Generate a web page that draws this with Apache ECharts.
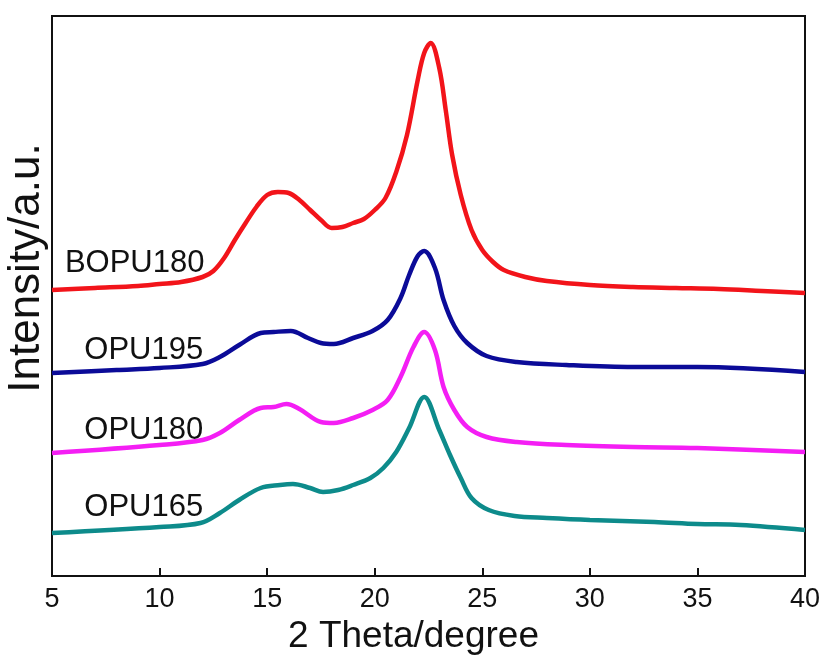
<!DOCTYPE html>
<html>
<head>
<meta charset="utf-8">
<script src="https://cdn.jsdelivr.net/npm/echarts@6/dist/echarts.min.js"></script>
<style>html,body{margin:0;padding:0;background:#fff}#c{width:826px;height:658px}</style>
</head>
<body>
<div id="c"></div>
<script>
// 2θ (degree) and intensity (a.u., curves stacked with offsets as in the figure)
const BOPU180_x = [5,7,9,10,11,12,12.5,13,13.5,14,14.5,15,15.5,16,16.5,17,17.5,18,18.5,19,19.5,20,20.5,21,21.5,22,22.3,22.6,23,23.3,23.6,24,24.5,25,25.5,26,27,28,30,32,34,36,38,40];
const BOPU180_y = [286,288,290,292,294,299,305,318,336,353,369,381,384,383,376,366,356,348,349,353,357,366,378,404,441,496,523,533,508,466,421,381,346,326,314,306,299,295,291,289,288,287,285,283];

const OPU195_x = [5,8,10,12,12.8,13.7,14.7,15.3,16.1,16.9,17.5,18.1,19,19.9,20.6,21.2,21.6,22,22.3,22.8,23.2,23.7,24.3,25.2,26.6,28.9,32,35,40];
const OPU195_y = [203,206,208,212,219,231,243,244,245,238,233,232,238,245,256,278,301,320,325,308,276,250,233,220,214,211,209,209,204];

const OPU180_x = [5,10,12,12.8,13.7,14.7,15.3,15.9,16.5,17.5,18.1,19,19.9,20.6,21.2,21.8,22.3,22.8,23.2,23.7,24.3,25.2,26.6,28.9,32,35,40];
const OPU180_y = [123,131,136,143,156,168,169,172,167,154,153,158,166,176,199,229,244,226,189,166,149,139,134,131,129,128,124];

const OPU165_x = [5,10,11.9,12.8,13.7,14.7,15.6,16.2,17,17.6,18.3,19,19.8,20.4,21,21.6,22.3,23,23.5,24,24.5,25.3,26.5,28,30,33,35,37,40];
const OPU165_y = [43,49,53,63,76,88,91,92,88,84,86,91,98,108,124,148,179,146,121,98,78,66,60,58,56,54,52,51,46];

const seriesNames = ['BOPU180','OPU195','OPU180','OPU165'];
const seriesColors = ['#f2141a','#0b0b98','#f41ef4','#0d8b8b'];
const xTicks = [5,10,15,20,25,30,35,40];

const zip = (xs, ys) => xs.map((x, i) => [x, ys[i]]);
const datasets = [zip(BOPU180_x,BOPU180_y), zip(OPU195_x,OPU195_y), zip(OPU180_x,OPU180_y), zip(OPU165_x,OPU165_y)];
// label anchor: [x in degrees, y in a.u.]
const labelPos = [[5.6,313],[6.5,226],[6.5,146],[6.5,69]];

const chart = echarts.init(document.getElementById('c'), null, {renderer:'canvas'});
const font = 'Liberation Sans, Arial, sans-serif';
chart.setOption({
  animation: false,
  backgroundColor: '#fff',
  grid: {left: 52, right: 21, top: 16, bottom: 82, show: true, borderColor: '#111', borderWidth: 2,
    containLabel: false, outerBoundsMode: 'none'},
  xAxis: {
    type: 'value', min: 5, max: 40, interval: 5,
    name: '2 Theta/degree', nameLocation: 'middle', nameGap: 40,
    nameTextStyle: {fontFamily: font, fontSize: 37, color: '#111', padding: [0, 30, 0, 0]},
    axisLine: {lineStyle: {color: '#111', width: 2}},
    axisTick: {inside: true, length: 8, lineStyle: {color: '#111', width: 2}},
    axisLabel: {fontFamily: font, fontSize: 27, color: '#111', margin: 10,
      formatter: v => xTicks.includes(v) ? String(v) : ''},
    splitLine: {show: false}
  },
  yAxis: {
    type: 'value', min: 0, max: 560,
    name: 'Intensity/a.u.', nameLocation: 'middle', nameGap: 3, nameRotate: 90,
    nameTextStyle: {fontFamily: font, fontSize: 44, color: '#111', padding: [0, 0, 0, 56]},
    axisLine: {show: true, lineStyle: {color: '#111', width: 2}},
    axisTick: {show: false}, axisLabel: {show: false}, splitLine: {show: false}
  },
  series: datasets.map((d, i) => ({
    name: seriesNames[i], type: 'line', data: d, smooth: 0.35, showSymbol: false,
    lineStyle: {color: seriesColors[i], width: 4.5}, z: 3,
    markPoint: {
      symbol: 'circle', symbolSize: 0,
      data: [{coord: labelPos[i], label: {show: true, formatter: seriesNames[i], position: 'right', distance: 0,
        fontFamily: font, fontSize: 31, color: '#111'}}]
    }
  }))
});
</script>
</body>
</html>
